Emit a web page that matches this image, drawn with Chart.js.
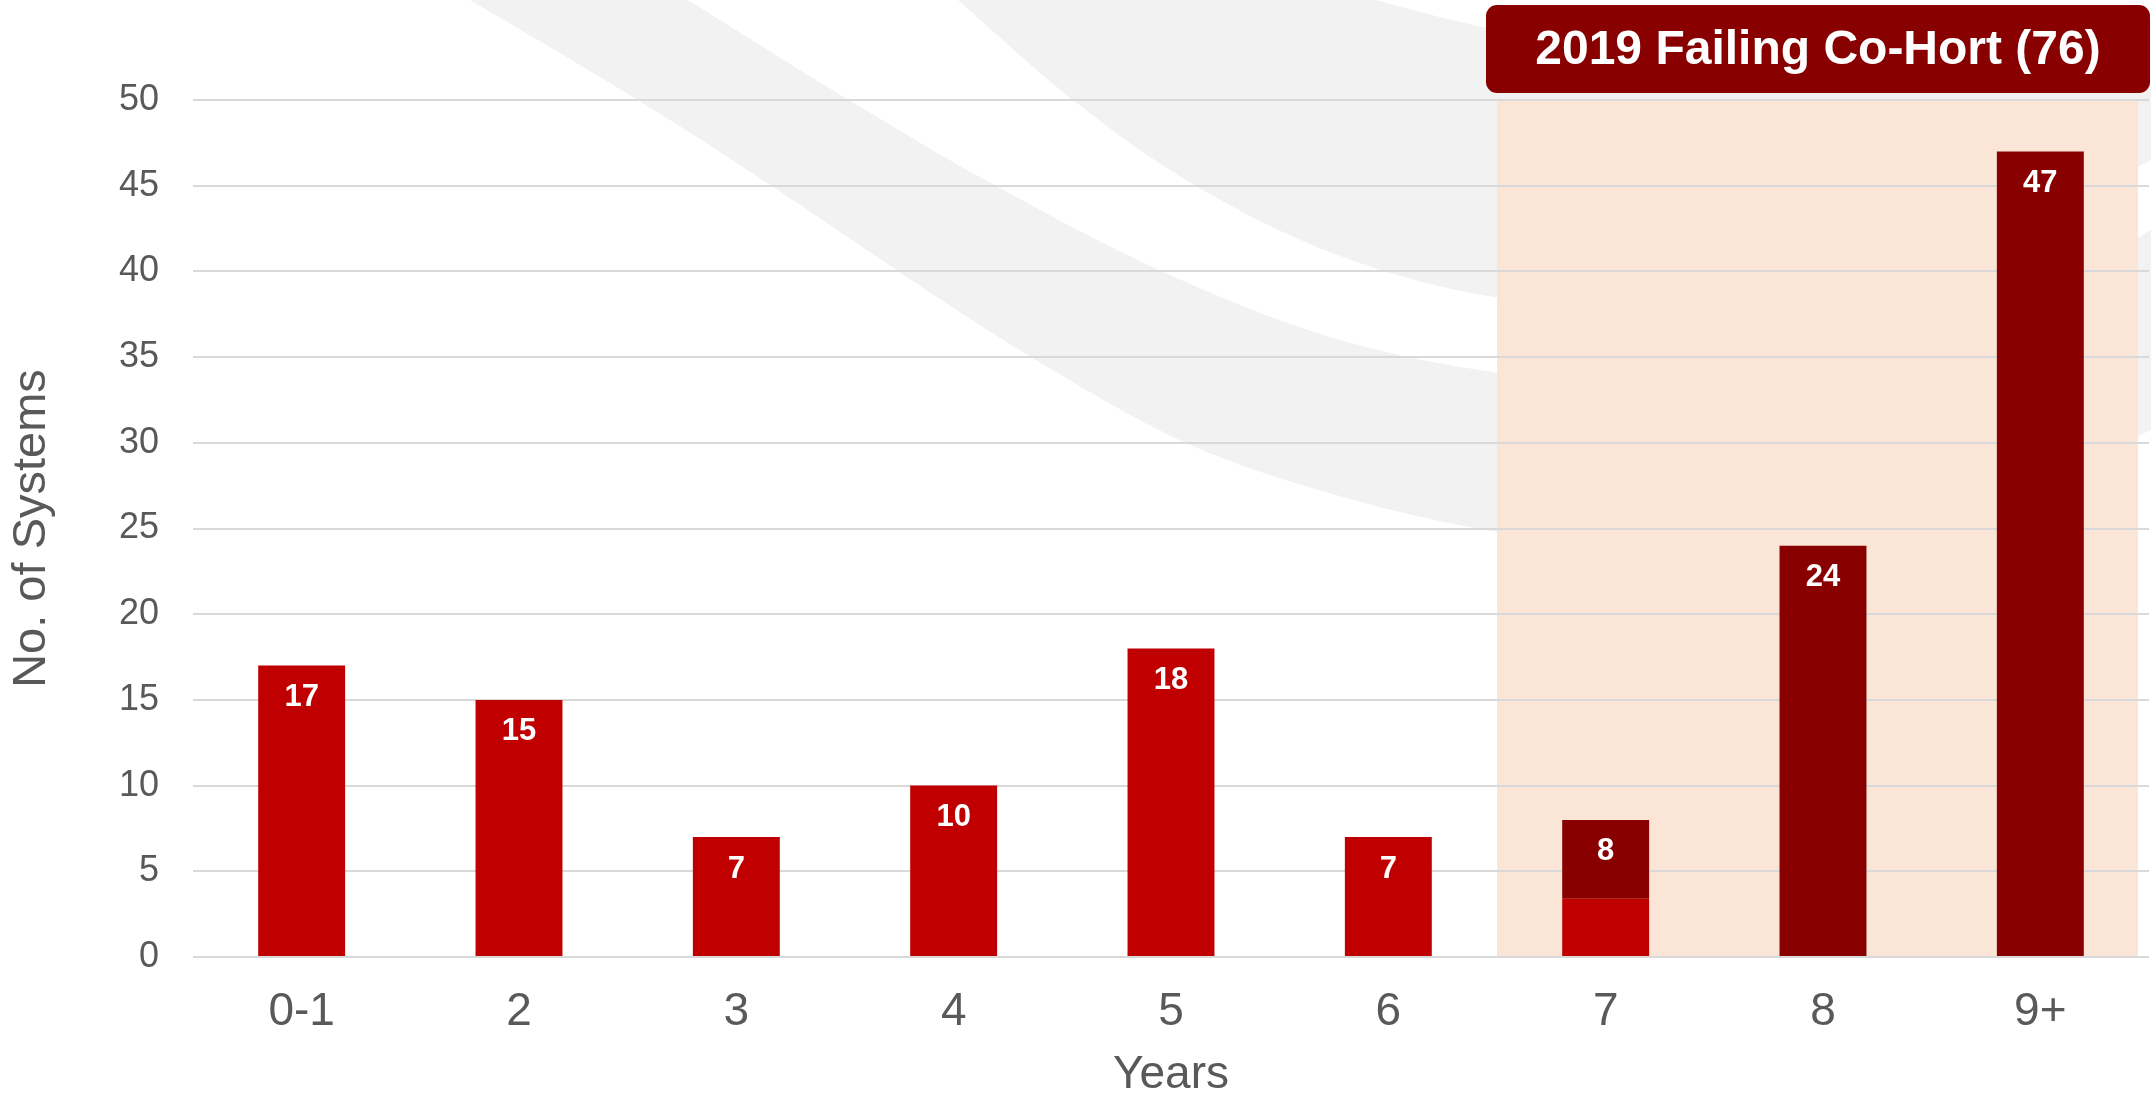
<!DOCTYPE html>
<html>
<head>
<meta charset="utf-8">
<script src="https://cdn.jsdelivr.net/npm/chart.js@4/dist/chart.umd.min.js"></script>
<style>
  html, body { margin: 0; padding: 0; background: #ffffff; }
  #wrap { width: 2151px; height: 1103px; position: relative; }
  canvas { display: block; }
</style>
</head>
<body>
<div id="wrap"><canvas id="c" width="2151" height="1103"></canvas></div>
<script>
// ---- data ----
const categories = ['0-1', '2', '3', '4', '5', '6', '7', '8', '9+'];
const otherSystems = [17, 15, 7, 10, 18, 7, 3.4, 0, 0];
const cohortSystems = [0, 0, 0, 0, 0, 0, 4.6, 24, 47];
const yMin = 0, yMax = 50, yStep = 5;
const highlightFrom = '7';
const highlightTo = '9+';
const cohortTitle = '2019 Failing Co-Hort (76)';
const xTitle = 'Years';
const yTitle = 'No. of Systems';

const FONT = "Arial, 'Liberation Sans', sans-serif";
const GREY_TEXT = '#595959';
const RED = '#C00000';
const DARK = '#880000';
const PEACH = '#FBE5D6';
const BAND = '#F2F2F2';

Chart.defaults.font.family = FONT;

function smoothPath(ctx, pts, moveFirst) {
  if (moveFirst) ctx.moveTo(pts[0][0], pts[0][1]); else ctx.lineTo(pts[0][0], pts[0][1]);
  for (let i = 0; i < pts.length - 1; i++) {
    const p0 = pts[Math.max(0, i - 1)], p1 = pts[i], p2 = pts[i + 1], p3 = pts[Math.min(pts.length - 1, i + 2)];
    const c1x = p1[0] + (p2[0] - p0[0]) / 6, c1y = p1[1] + (p2[1] - p0[1]) / 6;
    const c2x = p2[0] - (p3[0] - p1[0]) / 6, c2y = p2[1] - (p3[1] - p1[1]) / 6;
    ctx.bezierCurveTo(c1x, c1y, c2x, c2y, p2[0], p2[1]);
  }
}

const backgroundPlugin = {
  id: 'bg',
  beforeDraw(chart) {
    const ctx = chart.ctx, W = chart.width, ca = chart.chartArea;
    ctx.save();
    ctx.fillStyle = '#ffffff';
    ctx.fillRect(0, 0, W, chart.height);
    // decorative swooshes (background art, not data)
    const bands = [
      {
        a: [[688,0],[849,100],[996,186],[1161,271],[1330,337],[1500,373],[1680,385],[1860,360],[2040,290],[2151,230]],
        b: [[470,0],[638,100],[772,186],[898,271],[1031,357],[1186,443],[1343,497],[1500,532],[1680,548],[1860,530],[2040,480],[2151,430]]
      },
      {
        a: [[1375,0],[1500,30],[1680,52],[1860,52],[2040,35],[2151,20]],
        b: [[958,0],[1073,100],[1196,186],[1340,256],[1500,298],[1680,308],[1860,280],[2040,215],[2151,160]]
      }
    ];
    ctx.fillStyle = BAND;
    bands.forEach(bd => {
      ctx.beginPath();
      smoothPath(ctx, bd.a, true);
      smoothPath(ctx, bd.b.slice().reverse(), false);
      ctx.closePath();
      ctx.fill();
    });
    // cohort highlight
    const xs = chart.scales.x;
    const i0 = categories.indexOf(highlightFrom), i1 = categories.indexOf(highlightTo);
    const half = (xs.getPixelForValue(1) - xs.getPixelForValue(0)) / 2;
    const left = xs.getPixelForValue(i0) - half;
    const right = xs.getPixelForValue(i1) + half - 11;
    ctx.fillStyle = PEACH;
    ctx.fillRect(left, ca.top, right - left, ca.bottom - ca.top);
    ctx.restore();
  },
  afterDraw(chart) {
    const ctx = chart.ctx, ca = chart.chartArea, xs = chart.scales.x;
    const i0 = categories.indexOf(highlightFrom);
    const half = (xs.getPixelForValue(1) - xs.getPixelForValue(0)) / 2;
    const left = xs.getPixelForValue(i0) - half - 11;
    const right = chart.width - 1;
    const top = 5, bottom = ca.top - 7, r = 11;
    ctx.save();
    ctx.fillStyle = DARK;
    ctx.beginPath();
    ctx.moveTo(left + r, top);
    ctx.arcTo(right, top, right, bottom, r);
    ctx.arcTo(right, bottom, left, bottom, r);
    ctx.arcTo(left, bottom, left, top, r);
    ctx.arcTo(left, top, right, top, r);
    ctx.closePath();
    ctx.fill();
    ctx.fillStyle = '#ffffff';
    ctx.font = 'bold 48px ' + FONT;
    ctx.textAlign = 'center';
    ctx.textBaseline = 'middle';
    ctx.fillText(cohortTitle, (left + right) / 2, (top + bottom) / 2 + 2);
    ctx.restore();
  }
};

const totalsPlugin = {
  id: 'totals',
  afterDatasetsDraw(chart) {
    const ctx = chart.ctx;
    ctx.save();
    ctx.fillStyle = '#ffffff';
    ctx.font = 'bold 31px ' + FONT;
    ctx.textAlign = 'center';
    ctx.textBaseline = 'middle';
    categories.forEach((c, i) => {
      let total = 0, topEl = null;
      chart.data.datasets.forEach((ds, di) => {
        const v = ds.data[i];
        total += v;
        if (v > 0) topEl = chart.getDatasetMeta(di).data[i];
      });
      if (!topEl) return;
      ctx.fillText(String(Math.round(total)), topEl.x, topEl.y + 32);
    });
    ctx.restore();
  }
};

new Chart(document.getElementById('c'), {
  type: 'bar',
  data: {
    labels: categories,
    datasets: [
      { label: 'Systems', data: otherSystems, backgroundColor: RED, borderWidth: 0,
        barPercentage: 0.4, categoryPercentage: 1.0 },
      { label: 'Failing Co-Hort', data: cohortSystems, backgroundColor: DARK, borderWidth: 0,
        barPercentage: 0.4, categoryPercentage: 1.0 }
    ]
  },
  options: {
    responsive: false,
    animation: false,
    events: [],
    layout: { padding: { top: 100, right: 2, left: 0, bottom: 0 } },
    plugins: { legend: { display: false }, tooltip: { enabled: false } },
    scales: {
      x: {
        stacked: true,
        grid: { display: false, drawTicks: false },
        border: { display: false },
        ticks: { color: GREY_TEXT, font: { size: 46 }, padding: 28 },
        title: { display: true, text: xTitle, color: GREY_TEXT, font: { size: 46 }, padding: { top: 0, bottom: 0 } },
        afterFit(s) { s.height = 146; }
      },
      y: {
        stacked: true,
        min: yMin, max: yMax,
        grid: { color: '#D9D9D9', lineWidth: 2, drawTicks: false },
        border: { display: false },
        ticks: { stepSize: yStep, color: GREY_TEXT, font: { size: 36 }, padding: 34 },
        title: { display: true, text: yTitle, color: GREY_TEXT, font: { size: 47 }, padding: { top: 4, bottom: 0 } },
        afterFit(s) { s.width = 193; }
      }
    }
  },
  plugins: [backgroundPlugin, totalsPlugin]
});
</script>
</body>
</html>
